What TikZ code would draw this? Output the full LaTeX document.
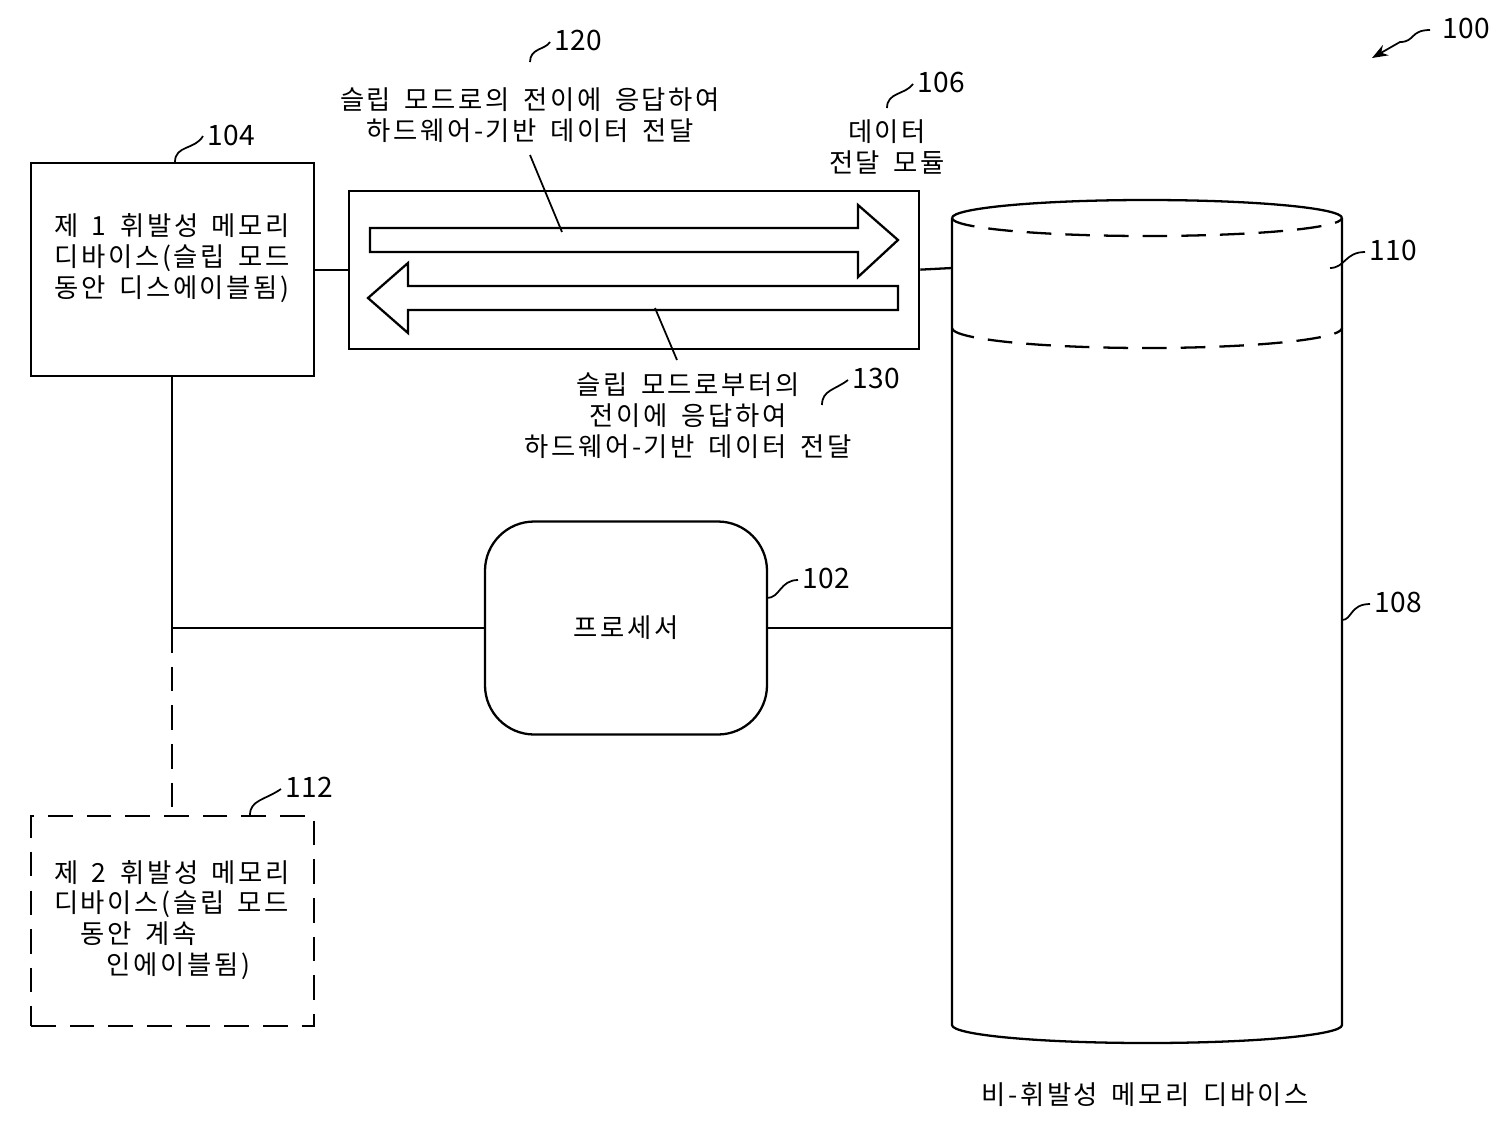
\documentclass[tikz,border=0pt]{standalone}
\usepackage{fontspec}
\setmainfont{Noto Sans CJK KR}
\newfontfamily\kfont{Noto Sans CJK KR}[LetterSpace=10,WordSpace=1.6]
\usetikzlibrary{arrows.meta}
\begin{document}
\begin{tikzpicture}[x=0.02cm,y=-0.02cm,line width=1.3pt,
  txt/.style={font=\kfont\fontsize{15}{17.6}\selectfont,align=center,inner sep=0},
  lbl/.style={font=\fontsize{16}{16}\selectfont,inner sep=1pt},
  sq/.style={line width=1pt},
  dsh/.style={dash pattern=on 14pt off 8pt}]
\useasboundingbox (0,0) rectangle (1500,1133);
% box 104
\node[draw,minimum width=283*0.02cm,minimum height=213*0.02cm,anchor=north west] (m1) at (30,162) {};
\node[txt] (m1t) at (172,258) {제 1 휘발성 메모리\\디바이스(슬립 모드\\동안 디스에이블됨)};
% module
\node[draw,minimum width=570*0.02cm,minimum height=158*0.02cm,anchor=north west] (mod) at (348,190) {};
\draw (370,228) -- (858,228) -- (858,205) -- (898,240) -- (858,277) -- (858,252) -- (370,252) -- cycle;
\draw (898,286) -- (408,286) -- (408,263) -- (368,298) -- (408,333) -- (408,310) -- (898,310) -- cycle;
% cylinder
\coordinate (cyl) at (952,628);
\draw (952,218) -- (952,1025) arc[start angle=180,end angle=0,x radius=195,y radius=18] -- (1342,218);
\draw (952,218) arc[start angle=180,end angle=360,x radius=195,y radius=18];
\draw[dsh] (952,218) arc[start angle=180,end angle=0,x radius=195,y radius=18];
\draw[dsh] (952,328) arc[start angle=180,end angle=0,x radius=195,y radius=20];
% processor
\node[draw,rounded corners=28pt,minimum width=282*0.02cm,minimum height=213*0.02cm] (p) at (626,628) {};
\node[txt] at (p) {프로세서};
% box 112
\node[draw,dsh,minimum width=283*0.02cm,minimum height=210*0.02cm,anchor=north west] (m2) at (30,815) {};
\node[txt,align=left] at (172,920) {제 2 휘발성 메모리\\디바이스(슬립 모드\\\quad 동안 계속\\\quad\quad 인에이블됨)};
% connectors
\coordinate (j) at (172,628);
\draw (m1.east) -- (mod.west |- m1.east);
\draw (mod.east |- m1.east) -- (952,268);
\draw (m1.south -| j) -- (j) -- (p.west);
\draw (p.east) -- (cyl);
\draw[dsh] (j) -- (m2.north -| j);
% texts
\node[txt] (t120) at (530,115) {슬립 모드로의 전이에 응답하여\\하드웨어-기반 데이터 전달};
\draw[line width=1pt] (530,155) -- (562,232);
\node[txt] (t130) at (688,416) {슬립 모드로부터의\\전이에 응답하여\\하드웨어-기반 데이터 전달};
\draw[line width=1pt] (655,308) -- (677,360);
\node[txt] at (887,147) {데이터\\전달 모듈};
\node[txt] at (1145,1095) {비-휘발성 메모리 디바이스};
% labels
\node[lbl,anchor=west] at (205,135) {104};
\draw[sq] (175,162) .. controls (175,145) and (195,150) .. (203,136);
\node[lbl,anchor=west] at (552,40) {120};
\draw[sq] (530,62) .. controls (530,48) and (545,50) .. (550,42);
\node[lbl,anchor=west] at (915,82) {106};
\draw[sq] (887,108) .. controls (887,92) and (905,95) .. (913,84);
\node[lbl,anchor=west] at (1367,250) {110};
\draw[sq] (1330,268) .. controls (1345,268) and (1345,252) .. (1365,252);
\node[lbl,anchor=west] at (1372,602) {108};
\draw[sq] (1342,620) .. controls (1352,620) and (1350,604) .. (1370,604);
\node[lbl,anchor=west] at (800,578) {102};
\draw[sq] (767,598) .. controls (780,598) and (780,580) .. (798,580);
\node[lbl,anchor=west] at (850,378) {130};
\draw[sq] (822,405) .. controls (822,390) and (835,390) .. (848,380);
\node[lbl,anchor=west] at (283,787) {112};
\draw[sq] (250,815) .. controls (250,800) and (265,800) .. (281,789);
\node[lbl,anchor=west] at (1440,28) {100};
\draw[sq,-{Stealth[length=9pt]}] (1430,30) .. controls (1410,30) and (1415,42) .. (1400,42) -- (1372,58);
\end{tikzpicture}
\end{document}
